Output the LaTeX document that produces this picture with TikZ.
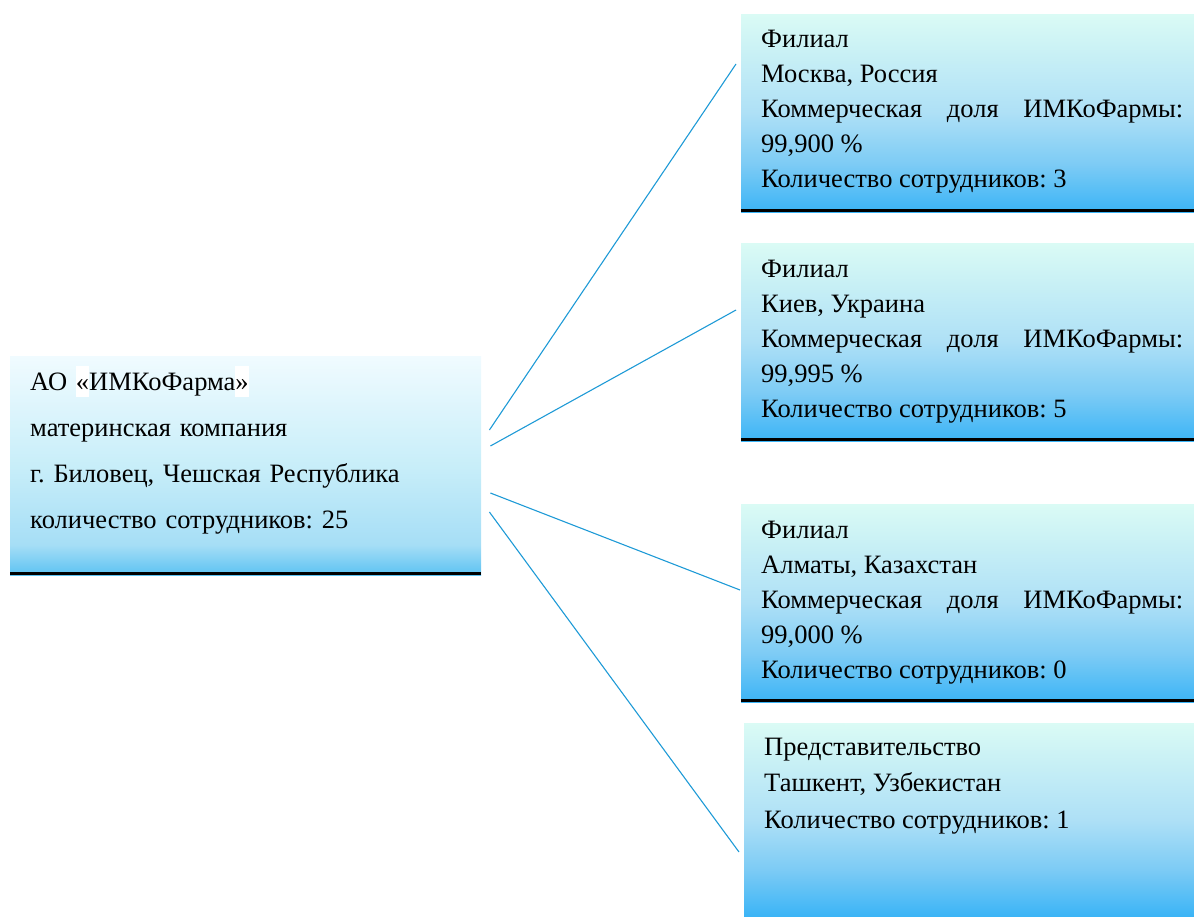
\documentclass[tikz,border=0pt]{standalone}
\usepackage{fontspec}
\setmainfont{Liberation Serif}
\usepackage{tikz}
\frenchspacing
\definecolor{linkblue}{HTML}{1E9AD6}
\definecolor{maintop}{HTML}{F0FBFF}
\definecolor{mainmid}{HTML}{C8EEF9}
\definecolor{mainlow}{HTML}{A6DEF6}
\definecolor{mainbot}{HTML}{5CC2F2}
\definecolor{brtop}{HTML}{DAFBF5}
\definecolor{brmid}{HTML}{AEE0F6}
\definecolor{brlow}{HTML}{7CCBF5}
\definecolor{brbot}{HTML}{3BB4F6}
\pgfdeclareverticalshading{mainshade}{100bp}{color(0bp)=(mainbot); color(25bp)=(mainbot);
  color(32bp)=(mainlow); color(50bp)=(mainmid); color(75bp)=(maintop); color(100bp)=(maintop)}
\pgfdeclareverticalshading{branchshade}{100bp}{color(0bp)=(brbot); color(25bp)=(brbot);
  color(37bp)=(brlow); color(50bp)=(brmid); color(75bp)=(brtop); color(100bp)=(brtop)}
\newcommand{\whitemark}[1]{{\setlength{\fboxsep}{0pt}\colorbox{white}{\rule[-7pt]{0pt}{31pt}#1}}}

\begin{document}
\begin{tikzpicture}[x=1pt,y=-1pt,
  mainbox/.style={anchor=north west, inner sep=0pt, shading=mainshade, shade,
    minimum width=471pt, minimum height=219pt},
  branchbox/.style={anchor=north west, inner sep=0pt, shading=branchshade, shade,
    minimum width=453pt, minimum height=198pt},
  maintext/.style={anchor=base west, inner sep=0pt, text width=440pt, align=left,
    font=\fontsize{26.5pt}{46pt}\selectfont},
  boxtext/.style={anchor=base west, inner sep=0pt, text width=422pt, align=justify,
    font=\fontsize{26.5pt}{35pt}\selectfont},
  bottomrule/.style={line width=3pt},
  link/.style={draw=linkblue, line width=1.1pt}]
  \useasboundingbox (0,0) rectangle (1194,916);

  % boxes
  \node[mainbox] (ao) at (10,356) {};
  \node[branchbox] (msk) at (741,14) {};
  \node[branchbox] (kiev) at (741,243) {};
  \node[branchbox] (alm) at (741,504) {};
  \node[branchbox, minimum width=450pt, minimum height=193pt] (tash) at (744,723) {};
  \foreach \b in {ao,msk,kiev,alm}
    \draw[bottomrule] ([yshift=1.5pt]\b.south west) -- ([yshift=1.5pt]\b.south east);

  % texts
  \node[maintext] (aotext) at ([shift={(20,34)}]ao.north west)
    {АО \whitemark{«}ИМКоФарма\whitemark{»}\\материнская компания\\
     г. Биловец, Чешская Республика\\количество сотрудников: 25};
  \node[boxtext] (msktext) at ([shift={(20,33)}]msk.north west)
    {Филиал\\Москва, Россия\\Коммерческая доля ИМКоФармы:\linebreak 99,900 \%\\
     Количество сотрудников: 3};
  \node[boxtext] (kievtext) at ([shift={(20,34)}]kiev.north west)
    {Филиал\\Киев, Украина\\Коммерческая доля ИМКоФармы:\linebreak 99,995 \%\\
     Количество сотрудников: 5};
  \node[boxtext] (almtext) at ([shift={(20,34)}]alm.north west)
    {Филиал\\Алматы, Казахстан\\Коммерческая доля ИМКоФармы:\linebreak 99,000 \%\\
     Количество сотрудников: 0};
  \node[boxtext, font=\fontsize{26.5pt}{36.5pt}\selectfont] (tashtext)
    at ([shift={(20,32)}]tash.north west)
    {Представительство\\Ташкент, Узбекистан\\Количество сотрудников: 1};

  % connectors
  \draw[link] ([shift={(8,74)}]ao.north east) -- ([shift={(-5,50)}]msk.north west);
  \draw[link] ([shift={(9,90)}]ao.north east) -- ([shift={(-5,67)}]kiev.north west);
  \draw[link] ([shift={(9,137)}]ao.north east) -- ([shift={(-1,86)}]alm.north west);
  \draw[link] ([shift={(8,156)}]ao.north east) -- ([shift={(-5,129)}]tash.north west);
\end{tikzpicture}
\end{document}
